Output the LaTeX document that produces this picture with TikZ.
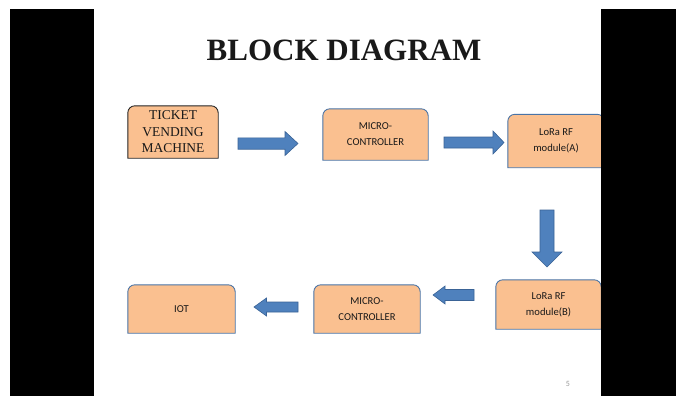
\documentclass[tikz,border=0pt]{standalone}
\usepackage{fontspec}
\setmainfont{Liberation Serif}
\newfontfamily\calibri{Carlito}
\usetikzlibrary{calc}
\definecolor{boxfill}{HTML}{FAC090}
\definecolor{boxline}{HTML}{4A74A6}
\definecolor{tvmline}{HTML}{262626}
\definecolor{arrowfill}{HTML}{4F81BD}
\definecolor{arrowline}{HTML}{3A6396}
\tikzset{
    every node/.style={inner sep=0pt, text=black!90}
}
\tikzset{
    block/.style={minimum width=105pt, minimum height=50pt, align=center,
    	font=\calibri\fontsize{10.6}{16}\selectfont}
}
\tikzset{
    pics/blockarrow/.style n args={4}{code={
      \draw[fill=arrowfill, draw=arrowline, line width=0.6pt]
        (0,-#2) -- ({#1-#4},-#2) -- ({#1-#4},-#3) -- (#1,0)
        -- ({#1-#4},#3) -- ({#1-#4},#2) -- (0,#2) -- cycle;
    }}
}
\newcommand{\roundtop}[2]{%
  \filldraw[fill=boxfill, draw=#2, line width=0.9pt]
    (#1.south west) -- ([yshift=-7pt]#1.north west)
    arc[start angle=180, end angle=90, radius=7pt]
    -- ([xshift=-7pt]#1.north east)
    arc[start angle=90, end angle=0, radius=7pt]
    -- (#1.south east) -- cycle;}
\pgfdeclarelayer{background}
\pgfsetlayers{background,main}

\begin{document}
\begin{tikzpicture}[x=1pt, y=-1pt]
  \useasboundingbox (0,0) rectangle (676,396);

  \node (title) at (344,50) {\fontsize{31}{31}\selectfont\bfseries BLOCK DIAGRAM};

  \node (tvm) [block, minimum width=90pt, minimum height=52pt,
    font=\fontsize{13.5}{16.5}\selectfont] at (173,132) {TICKET\\VENDING\\MACHINE};
  \node (mc1) [block, minimum height=51pt] at (375.5,134.5) {MICRO-\\CONTROLLER};
  \node (loraA) [block, minimum width=96pt, minimum height=53pt] at (556,141) {LoRa RF\\module(A)};
  \node (loraB) [block, minimum height=49pt] at (548.5,304.5) {LoRa RF\\module(B)};
  \node (mc2) [block, minimum width=106pt, minimum height=48pt] at (367,309) {MICRO-\\CONTROLLER};
  \node (iot) [block, minimum width=107pt, minimum height=48pt] at (181.5,309) {IOT};

  \node (pgnum) [text=black!40, font=\calibri\fontsize{8}{8}\selectfont] at (568,384) {5};

  \pic (a1) at (238,143.5) {blockarrow={60}{5.7}{12}{13}};
  \pic (a2) at (444,142.5) {blockarrow={60}{5.5}{11.5}{11}};
  \pic (a3) [rotate=-90] at (547,210) {blockarrow={57}{7}{15}{15}};
  \pic (a4) [rotate=180] at (474,295) {blockarrow={41}{5.5}{9}{12}};
  \pic (a5) [rotate=180] at (298,307) {blockarrow={44}{5}{9}{12.5}};

  \begin{pgfonlayer}{background}
    \fill[white] (0,0) rectangle (676,396);
    \roundtop{tvm}{tvmline}
    \roundtop{mc1}{boxline}
    \roundtop{loraA}{boxline}
    \roundtop{loraB}{boxline}
    \roundtop{mc2}{boxline}
    \roundtop{iot}{boxline}
  \end{pgfonlayer}

  \fill[black] (10,9) rectangle (94,396);
  \fill[black] (601,9) rectangle (676,396);
\end{tikzpicture}
\end{document}
